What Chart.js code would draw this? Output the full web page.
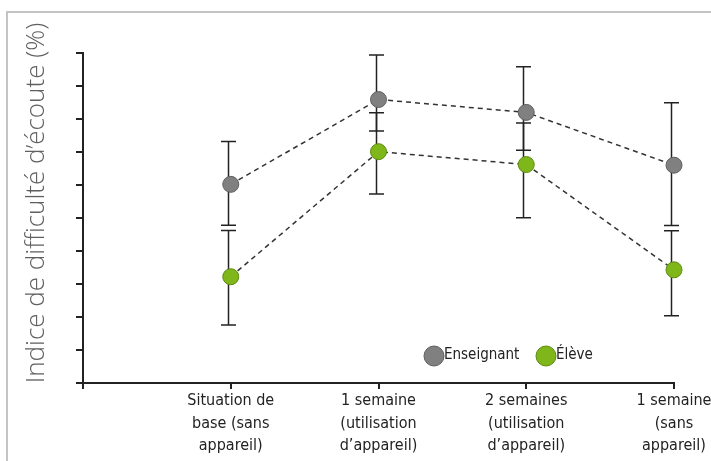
<!DOCTYPE html>
<html><head><meta charset="utf-8">
<script src="https://cdn.jsdelivr.net/npm/chart.js@4"></script>
<style>
html,body{margin:0;padding:0;background:#fff;overflow:hidden}
#wrap{position:relative;width:711px;height:461px;overflow:hidden}
#frame{position:absolute;left:6px;top:11px;width:800px;height:600px;border-left:2px solid #c4c4c4;border-top:2px solid #c4c4c4;pointer-events:none}
canvas{position:absolute;left:0;top:0}
</style></head><body>
<div id="wrap"><canvas id="c" width="711" height="461"></canvas><div id="frame"></div></div>
<script>
// ---- data ----
const categories = ['',
  ['Situation de', 'base (sans', 'appareil)'],
  ['1 semaine', '(utilisation', 'd\u2019appareil)'],
  ['2 semaines', '(utilisation', 'd\u2019appareil)'],
  ['1 semaine', '(sans', 'appareil)']];
const seriesNames = ['Enseignant', '\u00c9l\u00e8ve'];
const enseignant     = [null, 60.2, 85.9, 82.0, 66.0];
const enseignantLow  = [null, 47.8, 76.4, 70.5, 47.7];
const enseignantHigh = [null, 73.2, 99.4, 95.8, 84.9];
const eleve          = [null, 32.2, 70.1, 66.2, 34.3];
const eleveLow       = [null, 17.6, 57.3, 50.1, 20.4];
const eleveHigh      = [null, 46.2, 81.9, 78.8, 46.1];
const yMin = 0, yMax = 100, yStep = 10;
const yTitle = 'Indice de difficult\u00e9 d\u2019\u00e9coute (%)';

const lows = [enseignantLow, eleveLow];
const highs = [enseignantHigh, eleveHigh];
const fills = ['#808080', '#7fb61a'];
const strokes = ['#5e5e5e', '#5d8a12'];
const NARROW = '"DejaVu Sans Condensed", "Liberation Sans Narrow", Roboto, sans-serif';

const errorBars = {
  id: 'errorBars',
  beforeDatasetsDraw(chart) {
    const ctx = chart.ctx, xs = chart.scales.x, ys = chart.scales.y;
    ctx.save();
    ctx.strokeStyle = '#222';
    ctx.lineWidth = 1.5;
    lows.forEach((lo, d) => {
      const hi = highs[d];
      lo.forEach((v, i) => {
        if (v == null) return;
        const x = Math.round(xs.getPixelForValue(i)) - 2.5;
        const y1 = ys.getPixelForValue(v), y2 = ys.getPixelForValue(hi[i]);
        ctx.beginPath();
        ctx.moveTo(x, y1); ctx.lineTo(x, y2);
        ctx.moveTo(x - 7.5, y1); ctx.lineTo(x + 7.5, y1);
        ctx.moveTo(x - 7.5, y2); ctx.lineTo(x + 7.5, y2);
        ctx.stroke();
      });
    });
    ctx.restore();
  }
};

const legendPlugin = {
  id: 'customLegend',
  afterDraw(chart) {
    const ctx = chart.ctx;
    ctx.save();
    ctx.font = '15px ' + NARROW;
    ctx.textBaseline = 'middle';
    const items = [{x: 434, label: seriesNames[0], d: 0}, {x: 546, label: seriesNames[1], d: 1}];
    items.forEach(it => {
      ctx.beginPath();
      ctx.arc(it.x, 356, 10, 0, Math.PI * 2);
      ctx.fillStyle = fills[it.d];
      ctx.fill();
      ctx.lineWidth = 1;
      ctx.strokeStyle = strokes[it.d];
      ctx.stroke();
      ctx.fillStyle = '#222';
      ctx.fillText(it.label, it.x + 10, 355);
    });
    // y axis title
    const ca = chart.chartArea;
    ctx.translate(37, (ca.top + ca.bottom) / 2 - 15);
    ctx.rotate(-Math.PI / 2);
    ctx.textAlign = 'center';
    ctx.textBaseline = 'middle';
    ctx.fillStyle = '#5f5f5f';
    ctx.font = '300 26px "Open Sans", sans-serif';
    ctx.fillText(yTitle, 0, 0);
    ctx.restore();
  }
};

const mkDs = (label, data, d) => ({
  label, data,
  borderColor: '#333', borderWidth: 1.5, borderDash: [5, 4],
  pointRadius: 8, pointHoverRadius: 8,
  pointBackgroundColor: fills[d], pointBorderColor: strokes[d], pointBorderWidth: 1,
  fill: false, tension: 0, clip: false, spanGaps: false
});

new Chart(document.getElementById('c'), {
  type: 'line',
  data: {
    labels: categories,
    datasets: [mkDs(seriesNames[0], enseignant, 0), mkDs(seriesNames[1], eleve, 1)]
  },
  options: {
    responsive: false, animation: false,
    layout: {padding: {top: 53, right: 37, left: 0, bottom: 0}},
    plugins: {legend: {display: false}, tooltip: {enabled: false}},
    scales: {
      x: {
        type: 'category', offset: false,
        grid: {drawOnChartArea: false, drawTicks: true, tickLength: 6, color: '#222', lineWidth: 2},
        border: {color: '#222', width: 2},
        ticks: {color: '#222', font: {family: NARROW, size: 16, lineHeight: 1.4}, maxRotation: 0, minRotation: 0, autoSkip: false, padding: 1},
        afterFit(s) { s.height = 78; s.paddingLeft = 0; s.paddingRight = 0; }
      },
      y: {
        min: yMin, max: yMax,
        ticks: {stepSize: yStep, display: false},
        grid: {drawOnChartArea: false, drawTicks: true, tickLength: 7, color: '#222', lineWidth: 2},
        border: {color: '#222', width: 2},
        title: {display: false, text: yTitle},
        afterFit(s) { s.width = 83; }
      }
    }
  },
  plugins: [errorBars, legendPlugin]
});
</script>
</body></html>
